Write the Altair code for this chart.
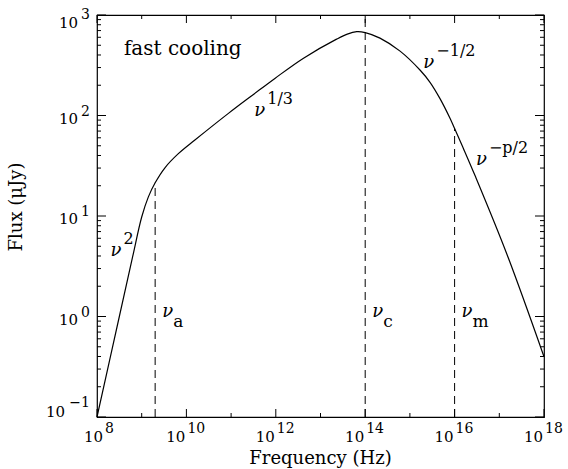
import altair as alt
import pandas as pd

# ---- curve samples (frequency in Hz, flux in microJy) ----
freq = [1e8, 3.16e8, 6.31e8, 1e9, 1.41e9, 2.0e9, 3.31e9, 6.61e9, 1.55e10, 8.71e10,
        3.16e11, 9.55e11, 4.17e12, 2.29e13, 3.98e13, 6.46e13, 1e14, 2.14e14, 6.03e14,
        1.70e15, 2.82e15, 4.68e15, 7.94e15, 1e16, 1.58e16, 2.88e16, 1.48e17, 1e18]
flux = [0.1, 1.0, 3.98, 9.77, 15.5, 21.4, 30.2, 41.7, 57.0, 105,
        162, 234, 372, 575, 646, 682, 668, 589, 437,
        282, 214, 148, 93.3, 74.1, 46.8, 25.1, 4.17, 0.398]

# ---- break frequencies (dashed lines) ----
break_freq = [2.0e9, 1e14, 1e16]
break_low = [0.1, 0.1, 0.1]
break_top = [21.4, 1000, 74.1]
break_sub = ["a", "c", "m"]

# ---- power-law segment labels ----
slope_freq = [2e8, 3.3e11, 2e15, 3e16]
slope_flux = [4, 100, 300, 32]
slope_exp = ["2", "1/3", "\u22121/2", "\u2212p/2"]

# ---- annotation ----
note_freq = [4e8]
note_flux = [400]
note_text = ["fast cooling"]

# ---- ticks ----
x_major = [1e8, 1e10, 1e12, 1e14, 1e16, 1e18]
x_major_exp = ["8", "10", "12", "14", "16", "18"]
x_minor = [1e9, 1e11, 1e13, 1e15, 1e17]
y_major = [0.1, 1, 10, 100, 1000]
y_major_exp = ["\u22121", "0", "1", "2", "3"]
y_minor = [0.2, 0.3, 0.4, 0.5, 0.6, 0.7, 0.8, 0.9,
           2, 3, 4, 5, 6, 7, 8, 9,
           20, 30, 40, 50, 60, 70, 80, 90,
           200, 300, 400, 500, 600, 700, 800, 900]

x_title = "Frequency (Hz)"
y_title = "Flux (\u03bcJy)"

W, H = 447, 402
FONT = "DejaVu Serif"

xs = alt.Scale(type="log", domain=[1e8, 1e18], nice=False)
ys = alt.Scale(type="log", domain=[0.1, 1000], nice=False)


def X(field):
    return alt.X(field, scale=xs, axis=None)


def Y(field):
    return alt.Y(field, scale=ys, axis=None)


XMIN = alt.XDatum(1e8, type="quantitative", scale=xs, axis=None)
YMIN = alt.YDatum(0.1, type="quantitative", scale=ys, axis=None)
YONE = alt.YDatum(1.0, type="quantitative", scale=ys, axis=None)

curve_df = pd.DataFrame({"f": freq, "F": flux})
curve = alt.Chart(curve_df).mark_line(color="black", strokeWidth=1.2,
                                      interpolate="catmull-rom").encode(
    x=X("f:Q"), y=Y("F:Q"))

brk_df = pd.DataFrame({"f": break_freq, "lo": break_low, "hi": break_top, "s": break_sub})
dashes = alt.Chart(brk_df).mark_rule(color="black", strokeWidth=1, strokeDash=[8, 5]).encode(
    x=X("f:Q"), y=Y("lo:Q"), y2="hi:Q")
brk_nu = alt.Chart(brk_df).mark_text(align="left", baseline="alphabetic", font=FONT, fontSize=18,
                                     fontStyle="italic", dx=7, color="black").encode(
    x=X("f:Q"), y=YONE, text=alt.value("\u03bd"))
brk_subs = alt.Chart(brk_df).mark_text(align="left", baseline="alphabetic", font=FONT, fontSize=17,
                                       dx=18, dy=10, color="black").encode(
    x=X("f:Q"), y=YONE, text="s:N")

sl_df = pd.DataFrame({"f": slope_freq, "F": slope_flux, "e": slope_exp})
sl_nu = alt.Chart(sl_df).mark_text(align="left", baseline="alphabetic", font=FONT, fontSize=18,
                                   fontStyle="italic", color="black").encode(
    x=X("f:Q"), y=Y("F:Q"), text=alt.value("\u03bd"))
sl_exp = alt.Chart(sl_df).mark_text(align="left", baseline="alphabetic", font=FONT, fontSize=16,
                                    dx=13, dy=-12, color="black").encode(
    x=X("f:Q"), y=Y("F:Q"), text="e:N")

note_df = pd.DataFrame({"f": note_freq, "F": note_flux, "t": note_text})
note = alt.Chart(note_df).mark_text(align="left", baseline="alphabetic", font=FONT, fontSize=20,
                                    color="black").encode(
    x=X("f:Q"), y=Y("F:Q"), text="t:N")


def xticks(vals, length, top):
    df = pd.DataFrame({"t": vals})
    y0, y1 = (0, length) if top else (H, H - length)
    return alt.Chart(df).mark_rule(color="black", strokeWidth=1).encode(
        x=X("t:Q"), y=alt.value(y0), y2=alt.value(y1))


def yticks(vals, length, right):
    df = pd.DataFrame({"t": vals})
    x0, x1 = (W, W - length) if right else (0, length)
    return alt.Chart(df).mark_rule(color="black", strokeWidth=1).encode(
        y=Y("t:Q"), x=alt.value(x0), x2=alt.value(x1))


tick_layers = [
    xticks(x_major, 8, False), xticks(x_major, 8, True),
    xticks(x_minor, 4, False), xticks(x_minor, 4, True),
    yticks(y_major, 9, False), yticks(y_major, 9, True),
    yticks(y_minor, 4, False), yticks(y_minor, 4, True),
]

# ---- x tick labels: "10" + superscript exponent ----
xl_df = pd.DataFrame({"t": x_major, "e": x_major_exp})


def xlabel(filt, dx_base, dx_exp):
    base = alt.Chart(xl_df).transform_filter(filt).mark_text(
        align="right", baseline="alphabetic", font=FONT, fontSize=15, dx=dx_base, dy=25,
        color="black").encode(x=X("t:Q"), y=YMIN, text=alt.value("10"))
    exp = alt.Chart(xl_df).transform_filter(filt).mark_text(
        align="left", baseline="alphabetic", font=FONT, fontSize=14, dx=dx_exp, dy=16,
        color="black").encode(x=X("t:Q"), y=YMIN, text="e:N")
    return [base, exp]


# ---- y tick labels ----
yl_df = pd.DataFrame({"t": y_major, "e": y_major_exp})


def ylabel(filt, dx_base, dy_base, dy_exp):
    base = alt.Chart(yl_df).transform_filter(filt).mark_text(
        align="right", baseline="alphabetic", font=FONT, fontSize=15, dx=dx_base, dy=dy_base,
        color="black").encode(y=Y("t:Q"), x=XMIN, text=alt.value("10"))
    exp = alt.Chart(yl_df).transform_filter(filt).mark_text(
        align="right", baseline="alphabetic", font=FONT, fontSize=14, dx=-7, dy=dy_exp,
        color="black").encode(y=Y("t:Q"), x=XMIN, text="e:N")
    return [base, exp]


label_layers = (
    xlabel("length(datum.e) == 1", 6, 8)
    + xlabel("length(datum.e) == 2", -1, 1)
    + ylabel("datum.t > 0.5 && datum.t < 500", -19, 8, 0)
    + ylabel("datum.t > 500", -19, 13, 4)
    + ylabel("datum.t < 0.5", -32, 0, -10)
)

# ---- axis titles ----
xt = alt.Chart(pd.DataFrame({"t": [x_title]})).mark_text(
    align="center", baseline="alphabetic", font=FONT, fontSize=18, color="black").encode(
    x=alt.value(W / 2), y=alt.value(H + 47), text="t:N")
yt = alt.Chart(pd.DataFrame({"t": [y_title]})).mark_text(
    align="center", baseline="alphabetic", font=FONT, fontSize=18, angle=270, color="black").encode(
    x=alt.value(-75), y=alt.value(H / 2 - 9), text="t:N")

chart = alt.layer(
    curve, dashes, brk_nu, brk_subs, sl_nu, sl_exp, note, *tick_layers, *label_layers, xt, yt
).properties(
    width=W, height=H,
    autosize=alt.AutoSizeParams(type="none"),
    padding={"left": 97, "top": 15, "right": 24, "bottom": 52},
    background="white",
).configure_view(stroke="black", strokeWidth=1.2)

chart.save("out.html", embed_options={"renderer": "svg", "actions": False})
